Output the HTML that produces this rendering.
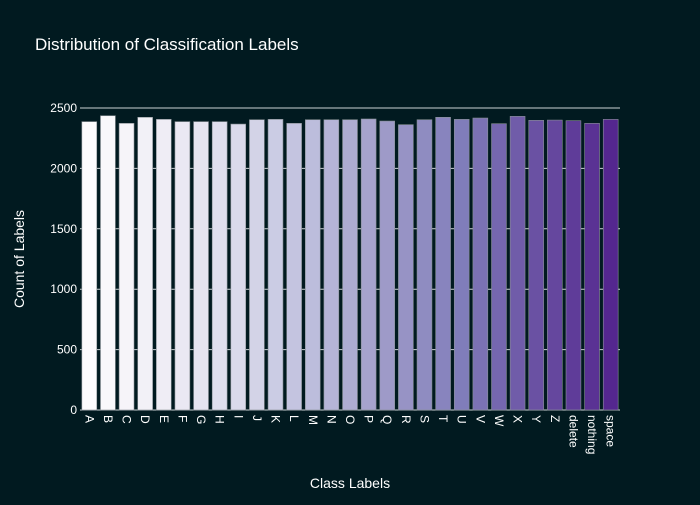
<!DOCTYPE html>
<html><head><meta charset="utf-8"><style>
body{margin:0;background:#011a20;}
svg text{font-family:"Liberation Sans",sans-serif;fill:#fff;}
</style></head><body>
<svg id="chart" width="700" height="500">
<rect width="700" height="500" fill="#011a20"/>
<text x="35" y="50" font-size="17">Distribution of Classification Labels</text>
<g id="grid"></g><g id="bars"></g><g id="xticks"></g><g id="yticks"></g>
<text x="350" y="488" font-size="14" text-anchor="middle">Class Labels</text>
<text transform="translate(24,259) rotate(-90)" font-size="14" text-anchor="middle">Count of Labels</text>
</svg>
<script>
const categories=["A","B","C","D","E","F","G","H","I","J","K","L","M","N","O","P","Q","R","S","T","U","V","W","X","Y","Z","delete","nothing","space"];
const counts=[2387,2436,2373,2423,2406,2387,2387,2387,2367,2403,2406,2373,2403,2403,2403,2409,2392,2362,2403,2423,2406,2417,2370,2431,2398,2400,2395,2373,2406];
const yTicks=[0,500,1000,1500,2000,2500];
const x0=80,x1=620,yBase=410,yTop=108,yMax=2500;
const ns="http://www.w3.org/2000/svg";
const band=(x1-x0)/categories.length;
const xs=i=>x0+i*band;
const ys=v=>yBase-(v/yMax)*(yBase-yTop);
const stops=[[252,251,253],[239,237,245],[218,218,235],[188,189,220],[158,154,200],[128,125,186],[106,81,163],[84,39,143]];
function color(t){const p=t*(stops.length-1),i=Math.min(Math.floor(p),stops.length-2),f=p-i;const c=stops[i].map((v,k)=>Math.round(v+(stops[i+1][k]-v)*f));return `rgb(${c})`;}
const G=document.getElementById('grid'),B=document.getElementById('bars'),XT=document.getElementById('xticks'),YT=document.getElementById('yticks');
yTicks.forEach(v=>{
 if(v>0){const l=document.createElementNS(ns,'line');
 
 
 l.setAttribute('x1',x0);l.setAttribute('x2',x1);l.setAttribute('y1',ys(v));l.setAttribute('y2',ys(v));l.setAttribute('stroke','#ccd2d4');l.setAttribute('stroke-width','1');G.appendChild(l);}
 const t=document.createElementNS(ns,'text');
 
 
 t.setAttribute('x',x0-3);t.setAttribute('y',ys(v)+4);t.setAttribute('text-anchor','end');t.setAttribute('font-size','12');t.textContent=v;YT.appendChild(t);
});
categories.forEach((c,i)=>{
 const r=document.createElementNS(ns,'rect');
 
 
 const w=band*0.8;
 r.setAttribute('x',xs(i)+band*0.1);r.setAttribute('width',w);r.setAttribute('y',ys(counts[i]));r.setAttribute('height',yBase-ys(counts[i]));
 r.setAttribute('fill',color(i/(categories.length-1)));r.setAttribute('stroke','#8a9196');r.setAttribute('stroke-width','0.6');B.appendChild(r);
 const t=document.createElementNS(ns,'text');
 
 
 const cx=xs(i)+band/2;
 t.setAttribute('transform',`translate(${cx-4},415) rotate(90)`);t.setAttribute('font-size','12');t.textContent=c;XT.appendChild(t);
});
const ax=document.createElementNS(ns,'line');


ax.setAttribute('x1',x0);ax.setAttribute('x2',x1);ax.setAttribute('y1',yBase);ax.setAttribute('y2',yBase);ax.setAttribute('stroke','#ccd2d4');G.appendChild(ax);
</script>
</body></html>
